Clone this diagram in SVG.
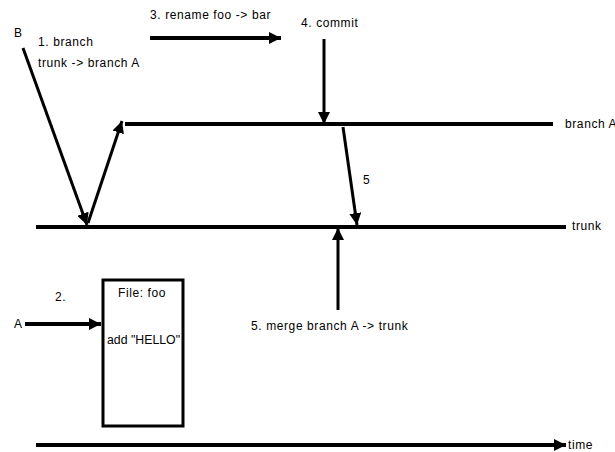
<svg xmlns="http://www.w3.org/2000/svg" width="615" height="452" viewBox="0 0 615 452">
  <style>
    text { font-family: "Liberation Sans", Arial, sans-serif; font-size: 12px; letter-spacing: 0.6px; fill: #000; }
    .ln { stroke: #000; stroke-width: 4; fill: none; }
    .arr { stroke: #000; stroke-width: 3; fill: none; marker-end: url(#head); }
    .box { stroke: #000; stroke-width: 3; fill: #fff; }
  </style>
  <defs>
    <marker id="head" markerUnits="userSpaceOnUse" markerWidth="14" markerHeight="12" refX="12" refY="6" orient="auto">
      <path d="M0,0 L12,6 L0,12 Z" fill="#000"/>
    </marker>
  </defs>

  <!-- timelines -->
  <g id="branchA">
    <line class="ln" x1="125" y1="124" x2="553" y2="124"/>
    <text x="565" y="128">branch A</text>
  </g>
  <g id="trunk">
    <line class="ln" x1="36" y1="227" x2="566" y2="227"/>
    <text x="572" y="230">trunk</text>
  </g>
  <g id="time">
    <text x="568" y="449">time</text>
  </g>

  <!-- file box -->
  <g id="file">
    <rect class="box" x="103" y="280" width="80" height="146"/>
    <text x="118" y="297">File: foo</text>
    <text x="107" y="344" textLength="73" lengthAdjust="spacingAndGlyphs" style="letter-spacing:0">add "HELLO"</text>
  </g>

  <!-- labels -->
  <g id="labels">
    <text x="14" y="37">B</text>
    <text x="38" y="46">1. branch</text>
    <text x="38" y="67">trunk -&gt; branch A</text>
    <text x="150" y="19">3. rename foo -&gt; bar</text>
    <text x="301" y="27">4. commit</text>
    <text x="363" y="184">5</text>
    <text x="55" y="301">2.</text>
    <text x="14" y="328">A</text>
    <text x="251" y="330">5. merge branch A -&gt; trunk</text>
  </g>

  <!-- connectors -->
  <g id="connectors">
    <line class="arr" x1="23" y1="48" x2="87" y2="225"/>
    <line class="arr" x1="88" y1="223" x2="122" y2="121"/>
    <line class="arr" x1="150" y1="38" x2="281" y2="38" style="stroke-width:4"/>
    <line class="arr" x1="324" y1="39" x2="324" y2="124"/>
    <line class="arr" x1="343" y1="127" x2="357" y2="225"/>
    <line class="arr" x1="338" y1="310" x2="338" y2="228"/>
    <line class="arr" x1="25" y1="324" x2="101" y2="324" style="stroke-width:4"/>
    <line class="arr" x1="36" y1="445" x2="566" y2="445" style="stroke-width:4"/>
  </g>
</svg>
